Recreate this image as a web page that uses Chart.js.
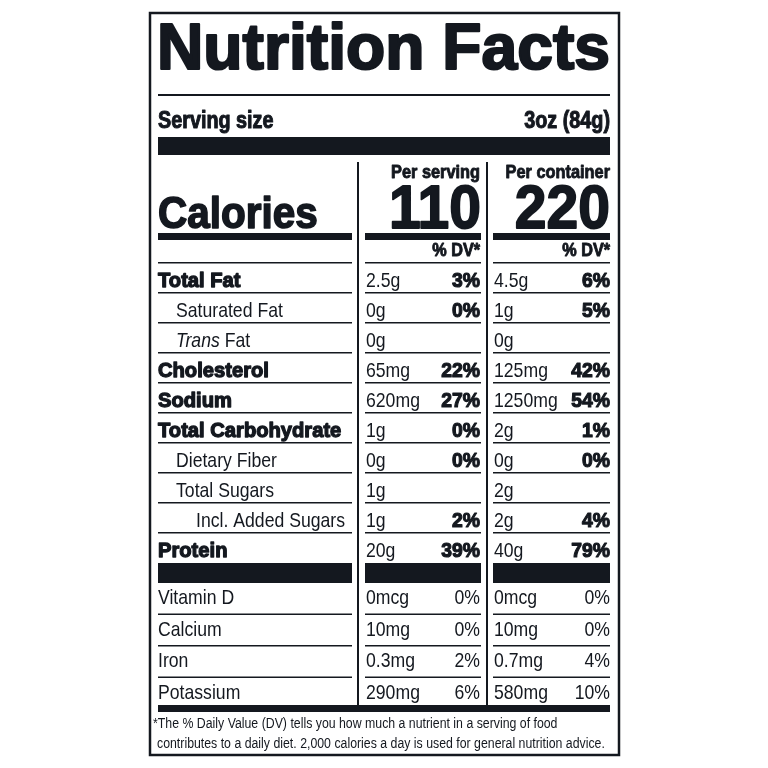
<!DOCTYPE html>
<html><head><meta charset="utf-8">
<script src="https://cdn.jsdelivr.net/npm/chart.js@4"></script>
<style>html,body{margin:0;background:#fff}canvas{display:block}</style>
</head><body><canvas id="c" width="768" height="768"></canvas>
<script>
const nutrients = ["Total Fat","Saturated Fat","Trans Fat","Cholesterol","Sodium","Total Carbohydrate","Dietary Fiber","Total Sugars","Incl. Added Sugars","Protein"];
const nutrientLevel = [0,1,1,0,0,0,1,1,2,0];
const servingAmount = ["2.5g","0g","0g","65mg","620mg","1g","0g","1g","1g","20g"];
const servingDV = ["3%","0%","","22%","27%","0%","0%","","2%","39%"];
const containerAmount = ["4.5g","1g","0g","125mg","1250mg","2g","0g","2g","2g","40g"];
const containerDV = ["6%","5%","","42%","54%","1%","0%","","4%","79%"];
const micros = ["Vitamin D","Calcium","Iron","Potassium"];
const microServing = ["0mcg","10mg","0.3mg","290mg"];
const microServingDV = ["0%","0%","2%","6%"];
const microContainer = ["0mcg","10mg","0.7mg","580mg"];
const microContainerDV = ["0%","0%","4%","10%"];
const calories = [110, 220];
const servingSize = "3oz (84g)";
const footnote = ["*The % Daily Value (DV) tells you how much a nutrient in a serving of food","contributes to a daily diet. 2,000 calories a day is used for general nutrition advice."];

const INK = "#14181f";
const label = {
  id: "label",
  afterDraw(chart) {
    const ctx = chart.ctx;
    const F = "'Liberation Sans', Arial, sans-serif";
    function t(s, x, y, size, bold, align, sx, italic, sw) {
      ctx.save();
      ctx.fillStyle = INK; ctx.strokeStyle = INK;
      ctx.font = (italic ? "italic " : "") + (bold ? "bold " : "") + size + "px " + F;
      ctx.textBaseline = "alphabetic";
      ctx.translate(x, y);
      ctx.scale(sx, 1);
      ctx.textAlign = align;
      ctx.fillText(s, 0, 0);
      if (bold) { ctx.lineWidth = sw || 0.9; ctx.lineJoin = "round"; ctx.strokeText(s, 0, 0); }
      ctx.restore();
    }
    function r(x1, y1, x2, y2) { ctx.fillStyle = INK; ctx.fillRect(x1, y1, x2 - x1, y2 - y1); }
    ctx.save();
    ctx.fillStyle = "#fff"; ctx.fillRect(0, 0, 768, 768);
    ctx.strokeStyle = INK; ctx.lineWidth = 2.5; ctx.strokeRect(150, 13, 469, 742);
    ctx.save();
    ctx.font = "bold 64px " + F;
    const w = ctx.measureText("Nutrition Facts").width;
    ctx.restore();
    t("Nutrition Facts", 157, 69, 64, true, "left", 453 / w, false, 2.2);
    r(158, 94, 610, 96);
    t("Serving size", 158, 128, 23, true, "left", 0.86, false, 1);
    t(servingSize, 610, 128, 23, true, "right", 0.86, false, 1);
    r(158, 137, 610, 155);
    r(357, 162, 359, 705); r(486, 162, 488, 705);
    t("Per serving", 480, 178, 19, true, "right", 0.86, false, 0.9);
    t("Per container", 610, 178, 19, true, "right", 0.86, false, 0.9);
    t(String(calories[0]), 481, 228, 62, true, "right", 0.92, false, 1.8);
    t(String(calories[1]), 610, 228, 62, true, "right", 0.92, false, 1.8);
    t("Calories", 158, 228, 45, true, "left", 0.9, false, 1.6);
    const segs = [[158, 352], [365, 481], [493, 610]];
    segs.forEach(s => r(s[0], 233, s[1], 240));
    t("% DV*", 480, 256, 18, true, "right", 0.9);
    t("% DV*", 610, 256, 18, true, "right", 0.9);
    for (let i = 0; i < nutrients.length; i++) {
      const top = 262 + 30 * i;
      segs.forEach(s => r(s[0], top, s[1], top + 1.5));
      const y = top + 25;
      const lvl = nutrientLevel[i];
      const nx = 158 + lvl * 18 + (lvl === 2 ? 2 : 0);
      if (nutrients[i] === "Trans Fat") {
        ctx.save(); ctx.font = "italic 21px " + F;
        const tw = ctx.measureText("Trans").width * 0.84; ctx.restore();
        t("Trans", nx, y, 21, false, "left", 0.84, true);
        t(" Fat", nx + tw, y, 21, false, "left", 0.84);
      } else if (lvl === 0) {
        t(nutrients[i], nx, y, 21, true, "left", 0.96, false, 1.3);
      } else {
        t(nutrients[i], nx, y, 21, false, "left", 0.84);
      }
      t(servingAmount[i], 366, y, 21, false, "left", 0.84);
      t(servingDV[i], 480, y, 21, true, "right", 0.92, false, 1.2);
      t(containerAmount[i], 494, y, 21, false, "left", 0.84);
      t(containerDV[i], 610, y, 21, true, "right", 0.92, false, 1.2);
    }
    segs.forEach(s => r(s[0], 563, s[1], 583));
    for (let i = 0; i < micros.length; i++) {
      const top = 583 + 31.5 * i;
      if (i > 0) segs.forEach(s => r(s[0], top - 1, s[1], top + 0.5));
      const y = top + 21;
      t(micros[i], 158, y, 21, false, "left", 0.84);
      t(microServing[i], 366, y, 21, false, "left", 0.84);
      t(microServingDV[i], 480, y, 21, false, "right", 0.84);
      t(microContainer[i], 494, y, 21, false, "left", 0.84);
      t(microContainerDV[i], 610, y, 21, false, "right", 0.84);
    }
    r(158, 705, 610, 712);
    t(footnote[0], 153, 728, 14, false, "left", 0.88);
    t(footnote[1], 157, 748, 14, false, "left", 0.88);
    ctx.restore();
  }
};

new Chart(document.getElementById("c"), {
  type: "bar",
  data: { labels: ["Per serving", "Per container"], datasets: [{ label: "Calories", data: calories, backgroundColor: "rgba(0,0,0,0)" }] },
  options: {
    responsive: false, animation: false, devicePixelRatio: 1,
    plugins: { legend: { display: false }, tooltip: { enabled: false } },
    scales: { x: { display: false }, y: { display: false } }
  },
  plugins: [label]
});
</script></body></html>
